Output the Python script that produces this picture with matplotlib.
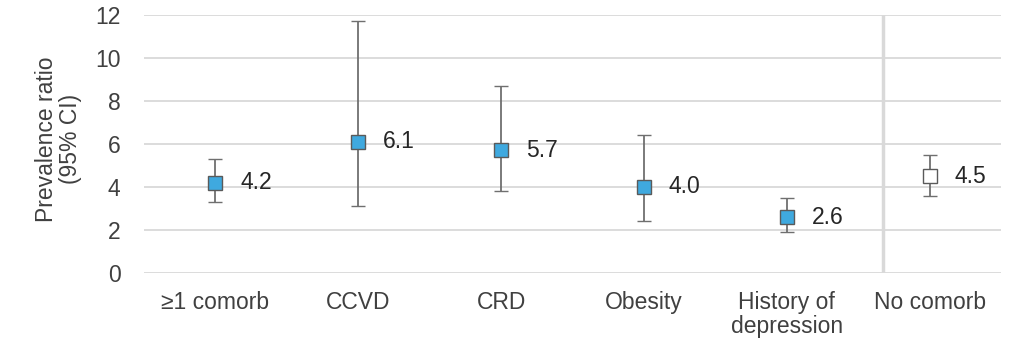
import matplotlib
matplotlib.use("Agg")
import matplotlib.pyplot as plt
import numpy as np

categories = ["≥1 comorb", "CCVD", "CRD", "Obesity", "History of\ndepression", "No comorb"]
estimates = [4.2, 6.1, 5.7, 4.0, 2.6, 4.5]
lower_ci = [3.3, 3.1, 3.8, 2.4, 1.9, 3.6]
upper_ci = [5.3, 11.7, 8.7, 6.4, 3.5, 5.5]
labels = ["4.2", "6.1", "5.7", "4.0", "2.6", "4.5"]
yticks = [0, 2, 4, 6, 8, 10, 12]

plt.rcParams['font.family'] = ['Liberation Sans', 'DejaVu Sans']
text_col = "#404040"
fs = 16.5

fig = plt.figure(figsize=(10.25, 3.42), dpi=100)
ax = fig.add_axes([0.1405, 0.2018, 0.8361, 0.7544])

x = np.arange(len(categories))
for i in range(len(categories)):
    fill = "#3FA9DF" if i < len(categories) - 1 else "white"
    ax.errorbar(x[i], estimates[i],
                yerr=[[estimates[i] - lower_ci[i]], [upper_ci[i] - estimates[i]]],
                fmt='s', color="#6f6f6f", ecolor="#6f6f6f", elinewidth=1.3,
                capsize=4.7, capthick=1.3, markersize=9.5,
                markerfacecolor=fill, markeredgecolor="#5a5a5a", markeredgewidth=1.0,
                zorder=3)
    ax.annotate(labels[i], (x[i], estimates[i]), xytext=(18, 0),
                textcoords='offset points', va='center', ha='left',
                fontsize=fs, color="#262626")

ax.axvline(4.675, color="#d9d9d9", lw=2.5, zorder=1)

ax.set_xlim(-0.5, len(categories) - 0.5)
ax.set_ylim(0, 12)
ax.set_yticks(yticks)
ax.set_yticklabels([str(v) for v in yticks])
ax.set_xticks(x)
ax.set_xticklabels(categories, linespacing=1.05)
ax.grid(axis='y', color="#d9d9d9", lw=1.3, zorder=0)
ax.set_axisbelow(True)
for s in ax.spines.values():
    s.set_visible(False)
ax.tick_params(axis='both', length=0, labelsize=fs, colors=text_col)
ax.tick_params(axis='y', pad=17)
ax.tick_params(axis='x', pad=13)
ax.set_ylabel("Prevalence ratio\n(95% CI)", fontsize=fs, color=text_col, linespacing=1.05)
ax.yaxis.set_label_coords(-0.072, 0.52)

fig.savefig("out.png", dpi=100)
